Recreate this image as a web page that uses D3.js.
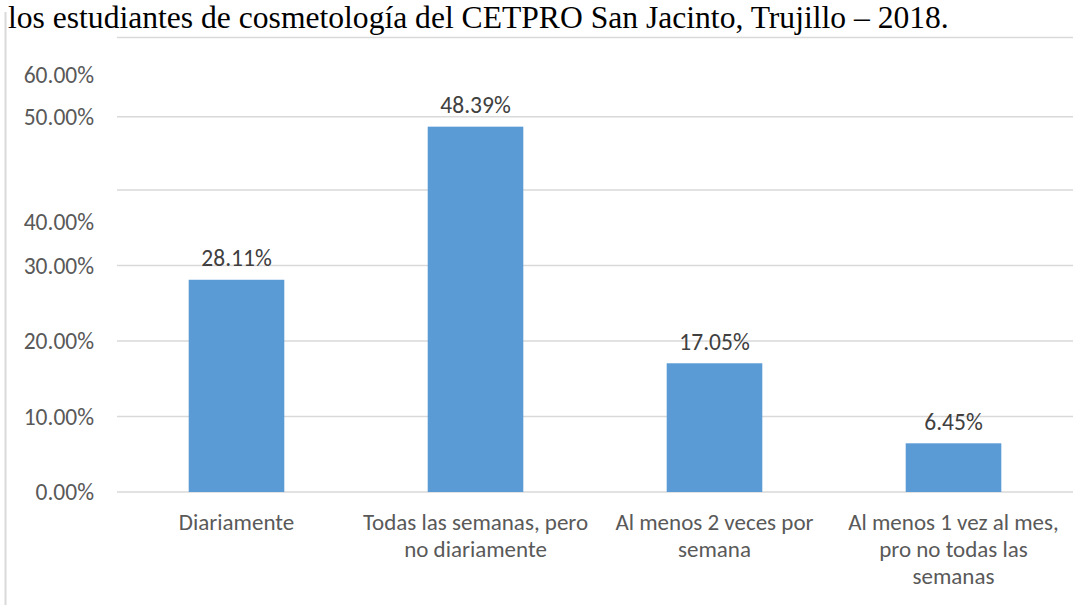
<!DOCTYPE html>
<html><head><meta charset="utf-8">
<script src="https://cdn.jsdelivr.net/npm/d3@7"></script>
<style>body{margin:0;background:#fff}svg{display:block}</style>
</head><body>
<svg id="c" width="1092" height="605"></svg>
<script>
const titleText = "los estudiantes de cosmetología del CETPRO San Jacinto, Trujillo – 2018.";
const categories = [
  ["Diariamente"],
  ["Todas las semanas, pero", "no diariamente"],
  ["Al menos 2 veces por", "semana"],
  ["Al menos 1 vez al mes,", "pro no todas las", "semanas"]
];
const values = [28.11, 48.39, 17.05, 6.45];
const valueLabels = ["28.11%", "48.39%", "17.05%", "6.45%"];
// gridlines as drawn in the source (value units)
const gridValues = [0, 10, 20, 30, 40, 49.7, 60.2];
// y-axis tick labels and where they sit in the source (value units)
const tickLabels = ["0.00%", "10.00%", "20.00%", "30.00%", "40.00%", "50.00%", "60.00%"];
const tickLabelPos = [0, 10, 20, 30, 35.8, 49.7, 55.2];

const svg = d3.select("#c");
const W = 1092, H = 605;
const plot = {left: 117, right: 1073, top: 37.5, bottom: 492};
const FONT = "Carlito, Lato, sans-serif";

const x = d3.scaleBand().domain(d3.range(values.length))
  .range([plot.left, plot.right]).paddingInner(0.6).paddingOuter(0.3);
const y = d3.scaleLinear().domain([0, 60.2]).range([plot.bottom, plot.top]);

// left frame line
svg.append("line").attr("x1", 5.5).attr("x2", 5.5).attr("y1", 12).attr("y2", H)
  .attr("stroke", "#d9d9d9").attr("stroke-width", 2);

// title
svg.append("text").attr("x", 8).attr("y", 28)
  .attr("font-family", "'Liberation Serif','Times New Roman',serif")
  .attr("font-size", 31.6).attr("fill", "#000").text(titleText);

// gridlines
svg.append("g").selectAll("line").data(gridValues).join("line")
  .attr("x1", plot.left).attr("x2", plot.right)
  .attr("y1", d => y(d)).attr("y2", d => y(d))
  .attr("stroke", "#d9d9d9").attr("stroke-width", 1.5);

// y tick labels
svg.append("g").selectAll("text").data(tickLabels).join("text")
  .attr("x", 94).attr("y", (d, i) => y(tickLabelPos[i]))
  .attr("dy", "0.35em").attr("text-anchor", "end")
  .attr("font-family", FONT).attr("font-size", 23.5)
  .attr("fill", "#595959").text(d => d);

// bars
svg.append("g").selectAll("rect").data(values).join("rect")
  .attr("x", (d, i) => x(i)).attr("width", x.bandwidth())
  .attr("y", d => y(d)).attr("height", d => y(0) - y(d))
  .attr("fill", "#5b9bd5");

// data labels
svg.append("g").selectAll("text").data(values).join("text")
  .attr("x", (d, i) => x(i) + x.bandwidth() / 2).attr("y", d => y(d) - 13.5)
  .attr("text-anchor", "middle")
  .attr("font-family", FONT).attr("font-size", 23.5)
  .attr("fill", "#404040").text((d, i) => valueLabels[i]);

// category labels
const cg = svg.append("g").selectAll("text").data(categories).join("text")
  .attr("x", (d, i) => x(i) + x.bandwidth() / 2).attr("y", 530)
  .attr("text-anchor", "middle")
  .attr("font-family", FONT).attr("font-size", 23)
  .attr("fill", "#595959");
cg.selectAll("tspan").data(d => d).join("tspan")
  .attr("x", function() { return d3.select(this.parentNode).attr("x"); })
  .attr("dy", (d, j) => j === 0 ? 0 : 27).text(d => d);
</script>
</body></html>
